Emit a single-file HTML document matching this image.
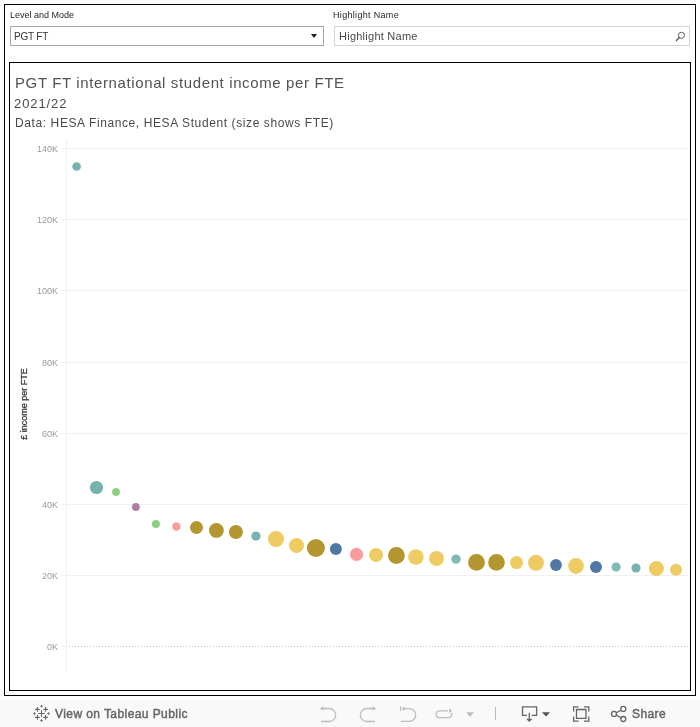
<!DOCTYPE html>
<html><head><meta charset="utf-8">
<style>
*{margin:0;padding:0;box-sizing:border-box}
html,body{width:700px;height:727px;overflow:hidden;background:#fff;font-family:"Liberation Sans",sans-serif;}
.abs{position:absolute;will-change:transform}
#outer{left:4px;top:4px;width:692px;height:692px;border:1px solid #000}
#frame{left:9px;top:62px;width:682px;height:629px;border:1px solid #000}
.lbl{font-size:9px;color:#262626;white-space:nowrap;margin-top:0.7px}
.box{background:#fff;white-space:nowrap;color:#333;font-size:10px;letter-spacing:-0.2px}
#dd{left:10px;top:26px;width:314px;height:20px;border:1px solid #a8a8a8}
#sb{left:334px;top:26px;width:356px;height:20px;border:1px solid #d4d4d4}
.t{white-space:nowrap;color:#4a4a4a}
#bar{left:0;top:700px;width:700px;height:27px;background:#f9f9f9}
</style></head><body>
<div id="outer" class="abs"></div>
<div class="abs lbl" style="left:9.5px;top:9px;">Level and Mode</div>
<div class="abs lbl" style="left:333px;top:9px;letter-spacing:0.32px">Highlight Name</div>
<div id="dd" class="abs box"><span class="abs" style="left:2.8px;top:3.6px;">PGT FT</span></div>
<div id="sb" class="abs box"><span class="abs" style="left:3.5px;top:2.5px;font-size:11px;letter-spacing:0.25px;color:#4a4a4a">Highlight Name</span></div>
<div id="frame" class="abs"></div>
<div class="abs t" style="left:14.5px;top:74px;font-size:15px;letter-spacing:0.62px;color:#525252">PGT FT international student income per FTE</div>
<div class="abs t" style="left:14.2px;top:96.2px;font-size:13px;letter-spacing:0.9px">2021/22</div>
<div class="abs t" style="left:14.5px;top:115.6px;font-size:12px;letter-spacing:0.6px">Data: HESA Finance, HESA Student (size shows FTE)</div>
<svg class="abs" style="left:0;top:0" width="700" height="727" viewBox="0 0 700 727">
<g font-family="Liberation Sans" font-size="9" fill="#999">
<text x="58" y="649.9" text-anchor="end">0K</text>
<text x="58" y="578.9" text-anchor="end">20K</text>
<text x="58" y="507.9" text-anchor="end">40K</text>
<text x="58" y="436.9" text-anchor="end">60K</text>
<text x="58" y="365.9" text-anchor="end">80K</text>
<text x="58" y="293.9" text-anchor="end">100K</text>
<text x="58" y="222.9" text-anchor="end">120K</text>
<text x="58" y="151.9" text-anchor="end">140K</text>
</g>
<line x1="61" y1="575.5" x2="689" y2="575.5" stroke="#f0f0f0" stroke-width="1"/>
<line x1="61" y1="504.5" x2="689" y2="504.5" stroke="#f0f0f0" stroke-width="1"/>
<line x1="61" y1="433.5" x2="689" y2="433.5" stroke="#f0f0f0" stroke-width="1"/>
<line x1="61" y1="362.5" x2="689" y2="362.5" stroke="#f0f0f0" stroke-width="1"/>
<line x1="61" y1="290.5" x2="689" y2="290.5" stroke="#f0f0f0" stroke-width="1"/>
<line x1="61" y1="219.5" x2="689" y2="219.5" stroke="#f0f0f0" stroke-width="1"/>
<line x1="61" y1="148.5" x2="689" y2="148.5" stroke="#f0f0f0" stroke-width="1"/>
<line x1="66.5" y1="139" x2="66.5" y2="671.5" stroke="#f0f0f0" stroke-width="1"/>
<line x1="61" y1="646.5" x2="66" y2="646.5" stroke="#f0f0f0" stroke-width="1"/>
<line x1="69" y1="646.5" x2="689" y2="646.5" stroke="#c2c2c2" stroke-width="1" stroke-dasharray="1,2"/>
<!-- dropdown caret -->
<path d="M311 34 L317 34 L314 38 Z" fill="#222"/>
<!-- search icon -->
<circle cx="681.4" cy="35.3" r="3.05" fill="none" stroke="#555" stroke-width="0.95"/>
<line x1="679.3" y1="37.5" x2="676.4" y2="40.5" stroke="#555" stroke-width="1.35" stroke-linecap="round"/>
<circle cx="76.60" cy="166.5" r="4.3" fill="#76b3ae"/>
<circle cx="96.50" cy="487.5" r="6.6" fill="#76b3ae"/>
<circle cx="116.00" cy="492.0" r="3.9" fill="#8fd07f"/>
<circle cx="135.90" cy="507.0" r="3.9" fill="#ad7fa3"/>
<circle cx="155.90" cy="524.1" r="4.0" fill="#8fd07f"/>
<circle cx="176.40" cy="526.5" r="4.2" fill="#fa9c9c"/>
<circle cx="196.50" cy="527.5" r="6.5" fill="#b3962f"/>
<circle cx="216.40" cy="530.4" r="7.4" fill="#b3962f"/>
<circle cx="235.90" cy="532.0" r="7.0" fill="#b3962f"/>
<circle cx="255.90" cy="536.1" r="4.6" fill="#76b3ae"/>
<circle cx="276.00" cy="539.0" r="8.0" fill="#efcb63"/>
<circle cx="296.50" cy="545.5" r="7.5" fill="#efcb63"/>
<circle cx="315.90" cy="548.0" r="9.0" fill="#b3962f"/>
<circle cx="335.90" cy="549.0" r="6.0" fill="#4f78a5"/>
<circle cx="356.50" cy="554.4" r="6.6" fill="#fa9c9c"/>
<circle cx="376.10" cy="555.0" r="7.0" fill="#efcb63"/>
<circle cx="396.40" cy="555.5" r="8.4" fill="#b3962f"/>
<circle cx="415.90" cy="557.0" r="7.8" fill="#efcb63"/>
<circle cx="436.50" cy="558.4" r="7.5" fill="#efcb63"/>
<circle cx="456.00" cy="559.1" r="4.7" fill="#80bbb4"/>
<circle cx="476.50" cy="562.4" r="8.4" fill="#b3962f"/>
<circle cx="496.50" cy="562.4" r="8.3" fill="#b3962f"/>
<circle cx="516.50" cy="562.6" r="6.5" fill="#efcb63"/>
<circle cx="536.00" cy="562.8" r="8.0" fill="#efcb63"/>
<circle cx="556.00" cy="565.0" r="5.9" fill="#4f78a5"/>
<circle cx="576.00" cy="566.0" r="7.9" fill="#efcb63"/>
<circle cx="596.00" cy="567.0" r="6.0" fill="#4f78a5"/>
<circle cx="616.10" cy="567.0" r="4.6" fill="#80bbb4"/>
<circle cx="636.00" cy="568.0" r="4.6" fill="#76b3ae"/>
<circle cx="656.40" cy="568.5" r="7.5" fill="#efcb63"/>
<circle cx="676.00" cy="569.8" r="6.0" fill="#efcb63"/>
</svg>
<svg style="position:absolute;left:0;top:0" width="100" height="700"><text transform="translate(27.3,439.8) rotate(-90)" font-family="Liberation Sans" font-size="9" fill="#333" stroke="#333" stroke-width="0.25">£ income per FTE</text></svg>
<div id="bar" class="abs"></div>

<svg class="abs" style="left:0;top:0" width="700" height="727" viewBox="0 0 700 727">
<!-- tableau logo -->
<g stroke="#fff" stroke-width="3" stroke-linecap="butt" opacity="1">
</g>
<g stroke="#666" stroke-width="1.1" fill="none">
<path d="M38.2 713.5H44.8M41.5 710.2V716.8"/>
<path d="M35.1 709.4H39.7M37.4 707.1V711.7"/>
<path d="M43.3 709.4H47.9M45.6 707.1V711.7"/>
<path d="M35.1 717.4H39.7M37.4 715.1V719.7"/>
<path d="M43.3 717.4H47.9M45.6 715.1V719.7"/>
</g>
<g fill="#666">
<path d="M41.5 704.8L42.3 705.8L43 706.3L42.3 706.8L41.5 707.8L40.7 706.8L40 706.3L40.7 705.8Z"/>
<path d="M41.5 719L42.3 720L43 720.5L42.3 721L41.5 722L40.7 721L40 720.5L40.7 720Z"/>
<path d="M34.5 712L35.3 713L36 713.5L35.3 714L34.5 715L33.7 714L33 713.5L33.7 713Z"/>
<path d="M48.5 712L49.3 713L50 713.5L49.3 714L48.5 715L47.7 714L47 713.5L47.7 713Z"/>
</g>
<!-- undo -->
<g stroke="#bdbdbd" stroke-width="1.3" fill="none">
<path d="M322 708.5H329.2A6.5 6.5 0 0 1 329.2 721.5H321"/>
<path d="M374 708.5H366.8A6.5 6.5 0 0 0 366.8 721.5H375"/>
<path d="M403 708.7H409.4A6.35 6.35 0 0 1 409.4 721.4H401"/>
<path d="M400.6 706.3V710.9"/>
<path d="M448 710.9H439.5A3.4 3.4 0 0 0 439.5 717.7H448.3A3.4 3.4 0 0 0 451.7 714.3V713"/>
<path d="M495.5 707V720" stroke="#bababa" stroke-width="1"/>
</g>
<g fill="#bdbdbd">
<path d="M320 708.5L323.3 706.2V710.8Z"/>
<path d="M376 708.5L372.7 706.2V710.8Z"/>
<path d="M401.6 708.7L404.6 706.5V710.9Z"/>
<path d="M452.2 710.9L449 708.6V713.2Z"/>
<path d="M466.2 712.2H474L470.1 716.9Z"/>
</g>
<!-- download -->
<g stroke="#666" stroke-width="1.3" fill="none">
<path d="M527 715.4H522.5V706.9H536.6V715.4H531.6"/>
<path d="M529.3 712.8V719"/>
<path d="M576.5 709.5H586V718.3H576.5Z"/>
<path d="M573.6 711.6V706.9H578.6M584 706.9H588.8V711.6M588.8 716.4V721.1H584M578.6 721.1H573.6V716.4"/>
<circle cx="614" cy="713.9" r="2.5"/>
<circle cx="623.3" cy="708.9" r="2.5"/>
<circle cx="623.3" cy="719" r="2.5"/>
<path d="M616.2 712.7L621.1 710.1M616.2 715.1L621.1 717.8"/>
</g>
<g fill="#666">
<path d="M526 718.7H532.6L529.3 721.9Z"/>
<path d="M542 712.3H550L546 716.6Z" fill="#555"/>
</g>
</svg>
<div class="abs" style="left:55px;top:707px;font-size:12px;-webkit-text-stroke:0.45px #666;letter-spacing:0.42px;color:#666;white-space:nowrap">View on Tableau Public</div>
<div class="abs" style="left:632px;top:707px;font-size:12px;-webkit-text-stroke:0.45px #666;letter-spacing:0.4px;color:#666;white-space:nowrap">Share</div>
</body></html>
